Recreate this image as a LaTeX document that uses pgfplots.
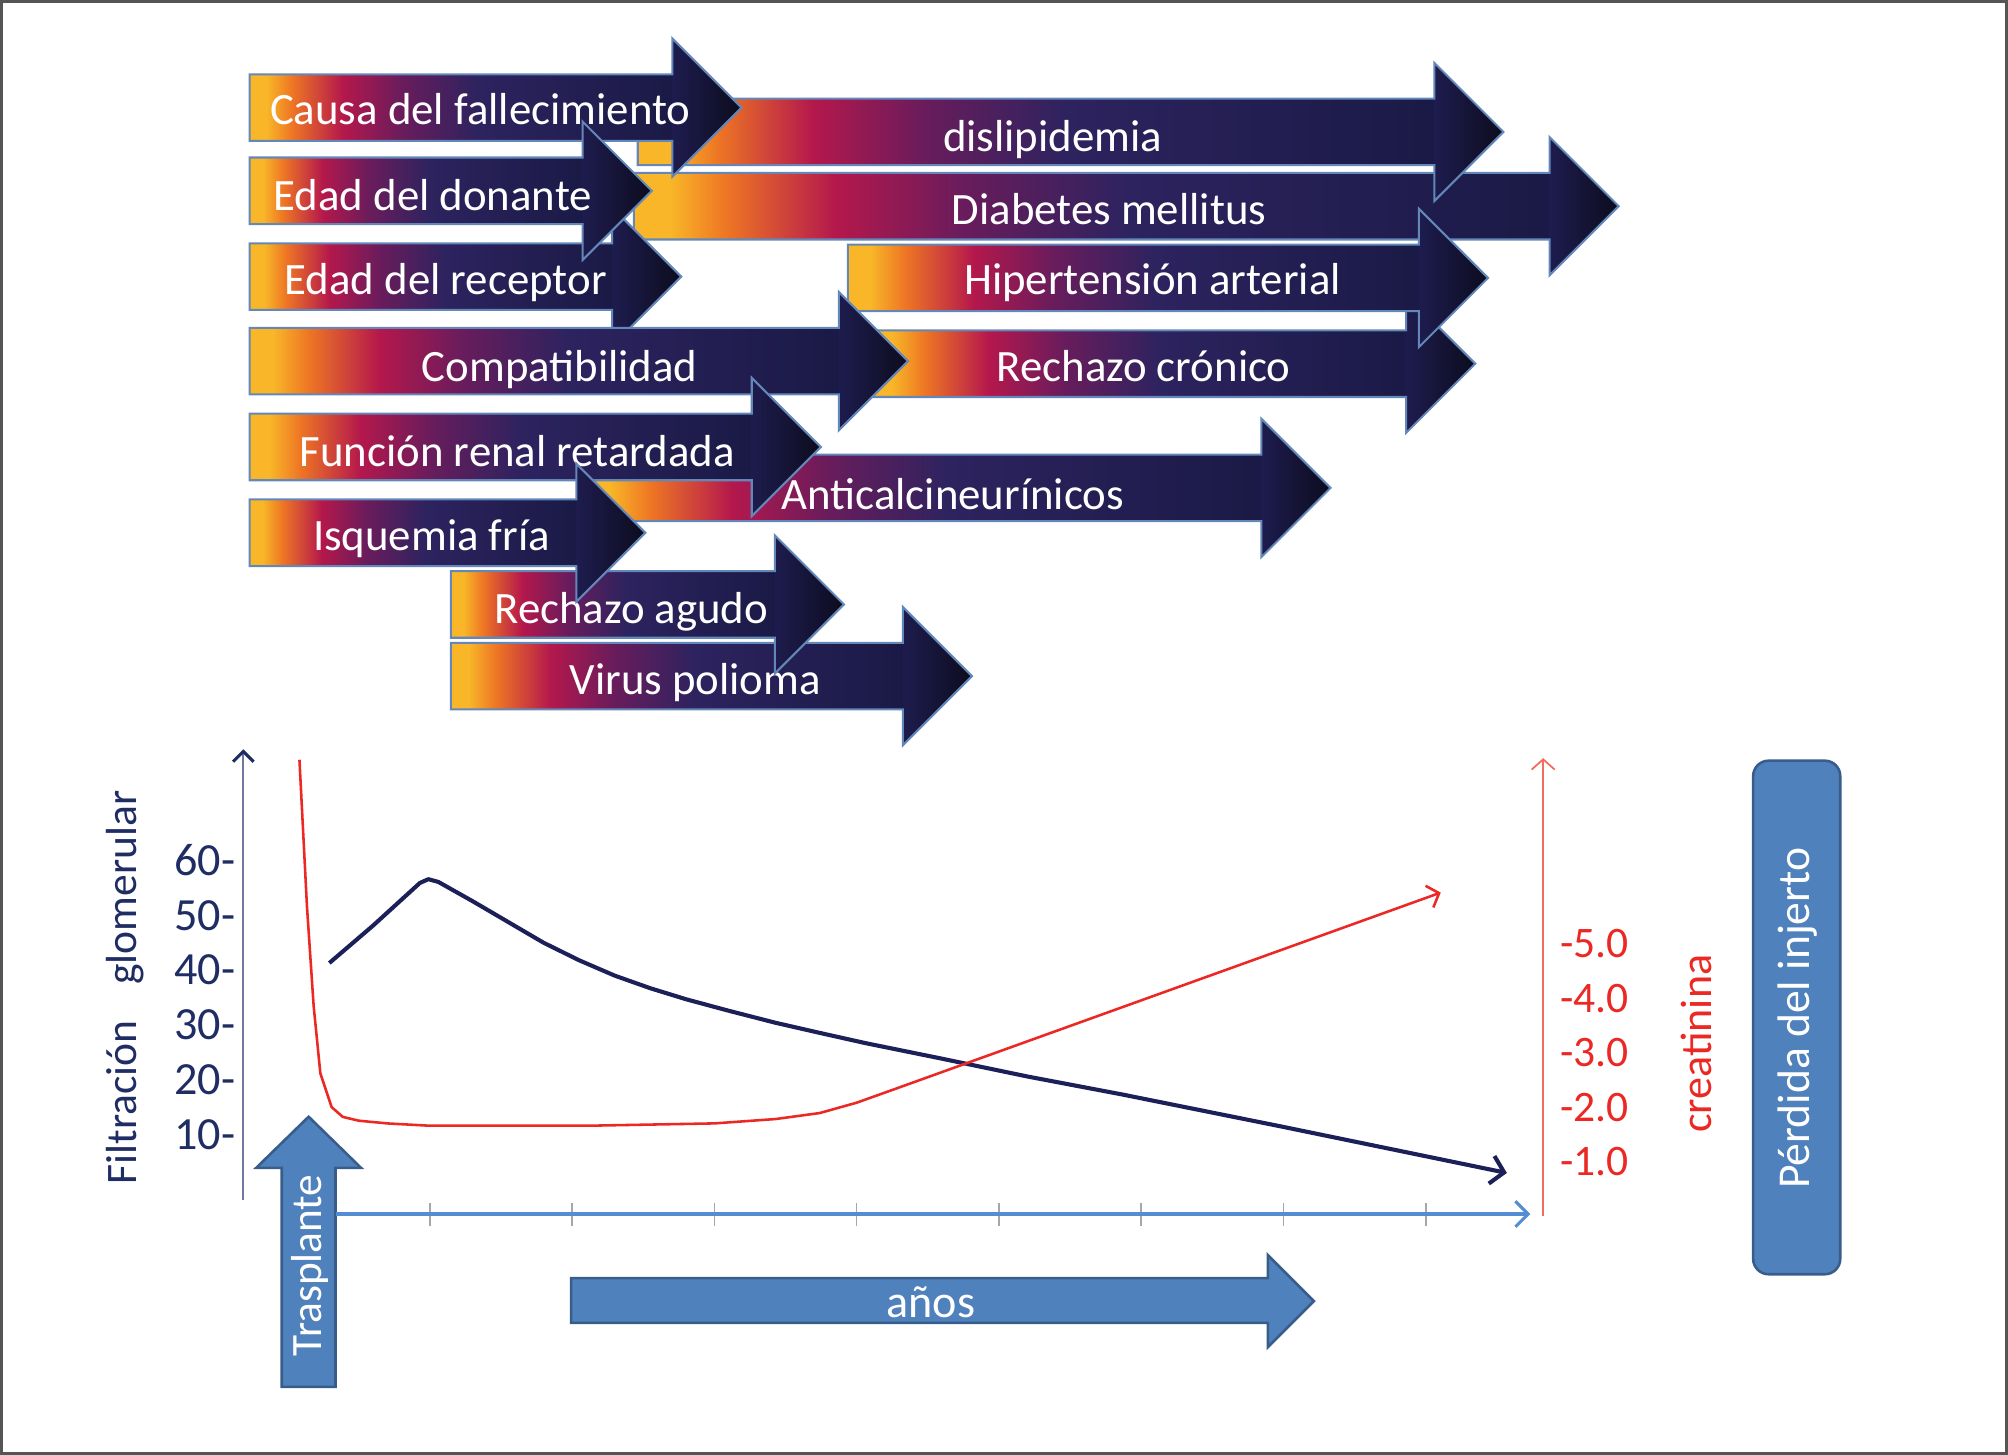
\documentclass[border=0pt]{standalone}
\usepackage{fontspec}
\setmainfont{Carlito}
\usepackage{pgfplots}
\pgfplotsset{compat=1.18}
\usetikzlibrary{arrows.meta}

\definecolor{ay}{RGB}{248,182,40}
\definecolor{ao}{RGB}{238,118,36}
\definecolor{ar}{RGB}{180,24,76}
\definecolor{ap}{RGB}{105,28,92}
\definecolor{an}{RGB}{45,35,95}
\definecolor{ad}{RGB}{26,26,70}
\definecolor{headA}{RGB}{30,28,78}
\definecolor{headB}{RGB}{12,12,30}
\definecolor{outl}{RGB}{100,135,185}
\definecolor{offblue}{RGB}{79,129,189}
\definecolor{offedge}{RGB}{56,93,138}
\definecolor{gfrnavy}{RGB}{31,45,100}
\definecolor{curvenavy}{RGB}{28,32,88}
\definecolor{axgray}{RGB}{110,120,160}
\definecolor{crred}{RGB}{235,40,35}
\definecolor{salmon}{RGB}{240,110,95}
\definecolor{framegray}{RGB}{85,85,85}
\definecolor{xblue}{RGB}{84,141,212}

\pgfdeclarehorizontalshading{arrowgrad}{100bp}{color(0bp)=(ay); color(25bp)=(ay); color(27bp)=(ay); color(30bp)=(ao); color(36bp)=(ar); color(43bp)=(ap); color(52bp)=(an); color(75bp)=(ad); color(100bp)=(ad)}

\newcommand{\afont}{\fontsize{17.5}{20}\selectfont}
% #1 x0, #2 head base x, #3 centre y, #4 text x, #5 text y, #6 text
\newcommand{\garrow}[6]{%
  \shade[shading=arrowgrad] (#1,#3-26) rectangle (#2,#3+26);
  \shade[left color=headA, right color=headB] (#2,#3-54) -- (#2+54,#3) -- (#2,#3+54) -- cycle;
  \draw[outl, line width=0.8pt, line join=miter] (#1,#3-26) -- (#2,#3-26) -- (#2,#3-54) -- (#2+54,#3) -- (#2,#3+54) -- (#2,#3+26) -- (#1,#3+26) -- cycle;
  \node[anchor=base, text=white, font=\afont, inner sep=0pt] at (#4,#5+11) {#6};
}

\begin{document}
\begin{tikzpicture}
\begin{axis}[name=master, at={(0,0)}, anchor=south west, scale only axis,
  width=784pt, height=568pt, xmin=0, xmax=1568, ymin=0, ymax=1136,
  y dir=reverse, hide axis, clip=false]
\draw[framegray, line width=1pt] (1,1) rectangle (1567,1135);

\garrow{495}{1210}{161}{866}{164}{Diabetes mellitus}
\garrow{498}{1120}{103}{822}{107}{dislipidemia}
\garrow{195}{525}{84}{375}{86}{Causa del fallecimiento}
\garrow{195}{478}{216}{348}{219}{Edad del receptor}
\garrow{195}{455}{149}{338}{153}{Edad del donante}
\garrow{680}{1098}{284}{893}{287}{Rechazo crónico}
\garrow{662}{1108}{217}{900}{219}{Hipertensión arterial}
\garrow{195}{655}{282}{437}{287}{Compatibilidad}
\garrow{455}{985}{381}{744}{387}{Anticalcineurínicos}
\garrow{195}{587}{349}{404}{353}{Función renal retardada}
\garrow{352}{705}{528}{543}{531}{Virus polioma}
\garrow{352}{605}{472}{493}{476}{Rechazo agudo}
\garrow{195}{450}{416}{337}{419}{Isquemia fría}

% labels
\node[rotate=90, text=gfrnavy, font=\fontsize{17}{20}\selectfont] at (98,771) {Filtración\hspace{14pt}glomerular};
\node[rotate=90, text=crred, font=\fontsize{17.2}{20}\selectfont] at (1325,815) {creatinina};

% Perdida del injerto
\draw[fill=offblue, draw=offedge, line width=1pt, rounded corners=6pt] (1369,594) rectangle (1437,995);
\node[rotate=90, text=white, font=\fontsize{17.8}{20}\selectfont] at (1404,795) {Pérdida del injerto};

% Trasplante arrow
\draw[fill=offblue, draw=offedge, line width=1pt] (220,1083) -- (220,912) -- (200,912) -- (241,872) -- (282,912) -- (262,912) -- (262,1083) -- cycle;
\node[rotate=90, text=white, font=\fontsize{16.9}{20}\selectfont] at (242,988) {Trasplante};

% anos arrow
\draw[fill=offblue, draw=offedge, line width=1pt] (446,998) -- (990,998) -- (990,980) -- (1026,1016) -- (990,1052) -- (990,1033) -- (446,1033) -- cycle;
\node[text=white, font=\fontsize{18}{20}\selectfont] at (727,1017) {años};

\coordinate (gfrsw) at (190,936.9);
\coordinate (crsw) at (190,949.5);
\coordinate (xsw) at (262,948);
\end{axis}

% x axis (years)
\begin{axis}[at={(xsw)}, anchor=south west, scale only axis, width=466.5pt, height=20pt,
  xmin=0.3375, xmax=8.735, ymin=0, ymax=1, axis x line=bottom, axis y line=none,
  xtick={1,2,3,4,5,6,7,8}, xticklabels={}, tick align=center, major tick length=9pt,
  x axis line style={xblue, line width=1.2pt, -{Straight Barb[length=5pt,width=10pt]}},
  xtick style={gray!70, line width=0.6pt}]
\end{axis}

% GFR axis
\begin{axis}[at={(gfrsw)}, anchor=south west, scale only axis, width=507.5pt, height=175.9pt,
  xmin=-0.3105, xmax=8.825, ymin=-1.9, ymax=80.3, axis x line=none, axis y line=left, clip=false,
  y axis line style={axgray, line width=0.8pt, -{Straight Barb[length=4pt,width=8pt,gfrnavy,line width=1.2pt]}},
  ytick={10,20,30,40,50,60}, yticklabels={10-,20-,30-,40-,50-,60-}, major tick length=0pt,
  yticklabel style={font=\fontsize{18}{20}\selectfont, text=gfrnavy, anchor=east, inner sep=0pt, xshift=-3pt}]
\addplot[curvenavy, line width=1.6pt, line join=round, -{Straight Barb[length=5pt,width=11pt,line width=1.6pt]}] coordinates {
(0.294,41.3) (0.60,48.1) (0.93,55.9) (0.99,56.6) (1.06,56.1) (1.30,52.6) (1.55,48.8) (1.80,45.0) (2.05,41.8) (2.30,39.0) (2.55,36.7) (2.80,34.7) (3.10,32.6) (3.43,30.4) (3.75,28.5) (4.06,26.7) (4.59,23.9) (5.2,20.6) (5.87,17.3) (6.98,11.5) (8.57,3.0)
};
\end{axis}

% creatinine axis
\begin{axis}[at={(crsw)}, anchor=south west, scale only axis, width=507.5pt, height=178.75pt,
  xmin=-0.3105, xmax=8.825, ymin=0, ymax=8.41, axis x line=none, axis y line=right, clip=false,
  y axis line style={salmon, line width=0.7pt, -{Straight Barb[length=4pt,width=9pt]}},
  ytick={1,2,3,4,5}, yticklabels={-1.0,-2.0,-3.0,-4.0,-5.0}, major tick length=0pt,
  yticklabel style={font=\fontsize{17}{20}\selectfont, text=crred, anchor=west, inner sep=0pt, xshift=6.5pt}]
\addplot[crred, line width=1pt, line join=round, -{Straight Barb[length=4pt,width=9pt]}] coordinates {
(0.084,8.38) (0.137,5.68) (0.184,3.85) (0.231,2.62) (0.31,2.00) (0.388,1.82) (0.50,1.75) (0.70,1.70) (0.98,1.66) (2.17,1.66) (3.0,1.70) (3.43,1.78) (3.74,1.89) (4.0,2.08) (4.31,2.37) (4.82,2.85) (8.105,5.94)
};
\end{axis}
\end{tikzpicture}
\end{document}
